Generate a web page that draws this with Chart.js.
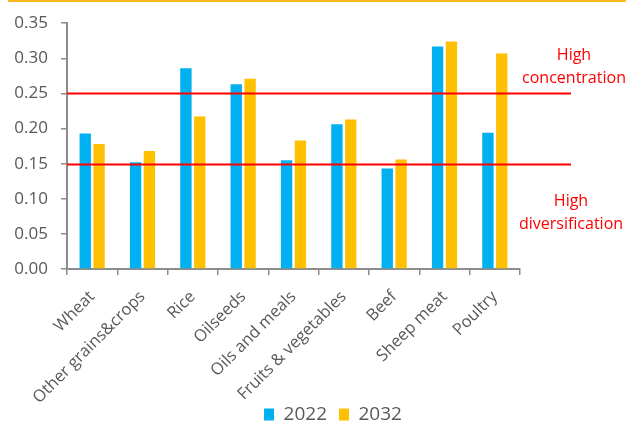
<!DOCTYPE html>
<html>
<head>
<meta charset="utf-8">
<script src="https://cdn.jsdelivr.net/npm/chart.js@4.4.1/dist/chart.umd.min.js"></script>
<style>
  html, body { margin: 0; padding: 0; background: #fff; }
  #wrap { position: relative; width: 626px; height: 423px; }
</style>
</head>
<body>
<div id="wrap"><canvas id="concChart"></canvas></div>
<script>
const categories = ['Wheat', 'Other grains&crops', 'Rice', 'Oilseeds', 'Oils and meals',
  'Fruits & vegetables', 'Beef', 'Sheep meat', 'Poultry'];
const values2022 = [0.193, 0.152, 0.286, 0.263, 0.155, 0.206, 0.143, 0.317, 0.194];
const values2032 = [0.178, 0.168, 0.217, 0.271, 0.183, 0.213, 0.156, 0.324, 0.307];
const thresholds = [0.25, 0.15];
const thresholdLabels = [['High', 'concentration'], ['High', 'diversification']];

const grey = '#595959';
const axisGrey = '#8c8c8c';
const fontFamily = "'Open Sans', 'DejaVu Sans', sans-serif";

// red threshold lines, the notes on the right and the thin top rule
const extras = {
  id: 'extras',
  afterLayout(chart) {
    // legend sits low, overlapping the label band, a little right of centre
    const lg = chart.legend;
    const h = lg.height;
    lg.left += 20;
    lg.right += 20;
    lg.top = 415 - 12 - 10;
    lg.bottom = lg.top + h;
  },
  afterDatasetsDraw(chart) {
    const ctx = chart.ctx;
    const area = chart.chartArea;
    const y = chart.scales.y;
    ctx.save();
    ctx.fillStyle = '#FBBA1E';
    ctx.fillRect(8, 0, chart.width - 8, 2);

    ctx.strokeStyle = '#FF0000';
    ctx.lineWidth = 2;
    thresholds.forEach(t => {
      const py = Math.round(y.getPixelForValue(t)) + 0.5;
      ctx.beginPath();
      ctx.moveTo(area.left, py);
      ctx.lineTo(571, py);
      ctx.stroke();
    });

    ctx.fillStyle = '#FF0000';
    ctx.font = '16px ' + fontFamily;
    ctx.textAlign = 'center';
    ctx.textBaseline = 'middle';
    ctx.fillText(thresholdLabels[0][0], 574, 55);
    ctx.fillText(thresholdLabels[0][1], 574, 78);
    ctx.fillText(thresholdLabels[1][0], 571, 201);
    ctx.fillText(thresholdLabels[1][1], 571, 224);
    ctx.restore();
  }
};

new Chart(document.getElementById('concChart'), {
  type: 'bar',
  data: {
    labels: categories,
    datasets: [
      { label: '2022', data: values2022, backgroundColor: '#00B0F0' },
      { label: '2032', data: values2032, backgroundColor: '#FFC000' }
    ]
  },
  options: {
    responsive: true,
    maintainAspectRatio: false,
    animation: false,
    categoryPercentage: 0.55,
    barPercentage: 0.82,
    layout: { padding: { top: 11, right: 0, left: 0, bottom: -27 } },
    plugins: {
      tooltip: { enabled: false },
      legend: {
        position: 'bottom',
        labels: {
          color: grey,
          font: { family: fontFamily, size: 19 },
          boxWidth: 10,
          boxHeight: 12,
          padding: 12
        }
      }
    },
    scales: {
      x: {
        afterFit: s => { s.height = 140; },
        grid: { drawOnChartArea: false, color: axisGrey, tickLength: 6, lineWidth: 1.5 },
        border: { color: axisGrey, width: 2 },
        ticks: {
          color: grey,
          font: { family: fontFamily, size: 16.5 },
          maxRotation: 45,
          minRotation: 45,
          padding: 12
        }
      },
      y: {
        min: 0,
        max: 0.35,
        afterFit: s => { s.width = 67; },
        grid: { drawOnChartArea: false, color: axisGrey, tickLength: 6, lineWidth: 1.5 },
        border: { color: axisGrey, width: 2 },
        ticks: {
          stepSize: 0.05,
          color: grey,
          font: { family: fontFamily, size: 17 },
          padding: 13,
          callback: v => v.toFixed(2)
        }
      },
      // empty axis that keeps room for the notes on the right
      yRoom: {
        position: 'right',
        afterFit: s => { s.width = 106; },
        grid: { display: false },
        border: { display: false },
        ticks: { display: false }
      }
    }
  },
  plugins: [extras]
});
</script>
</body>
</html>
